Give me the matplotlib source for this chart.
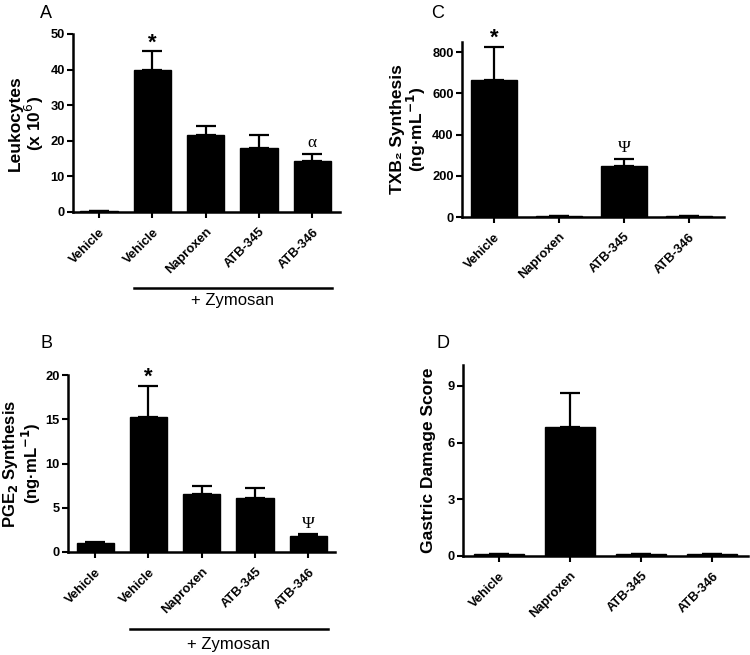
import matplotlib
matplotlib.use("Agg")
import matplotlib.pyplot as plt
import matplotlib.transforms as mtransforms

plt.rcParams['font.family'] = ['Liberation Sans', 'DejaVu Sans']

# Panel A: leukocytes
a_labels = ['Vehicle', 'Vehicle', 'Naproxen', 'ATB-345', 'ATB-346']
a_values = [0.3, 40.0, 21.5, 18.0, 14.3]
a_errors = [0.0, 5.1, 2.6, 3.7, 2.1]
a_marks = ['', '*', '', '', 'α']

# Panel B: PGE2 synthesis
b_labels = ['Vehicle', 'Vehicle', 'Naproxen', 'ATB-345', 'ATB-346']
b_values = [1.0, 15.3, 6.5, 6.1, 1.8]
b_errors = [0.1, 3.5, 1.0, 1.1, 0.2]
b_marks = ['', '*', '', '', 'Ψ']

# Panel C: TXB2 synthesis
c_labels = ['Vehicle', 'Naproxen', 'ATB-345', 'ATB-346']
c_values = [665, 4, 248, 4]
c_errors = [160, 0, 35, 0]
c_marks = ['*', '', 'Ψ', '']

# Panel D: gastric damage
d_labels = ['Vehicle', 'Naproxen', 'ATB-345', 'ATB-346']
d_values = [0.1, 6.8, 0.1, 0.1]
d_errors = [0.0, 1.8, 0.0, 0.0]


def bar_panel(ax, labels, values, errors, marks, ylim, yticks, xlim):
    x = list(range(len(values)))
    ax.bar(x, values, width=0.7, color='black', edgecolor='black')
    ax.errorbar(x, values, yerr=[[0] * len(errors), errors], fmt='none',
                ecolor='black', elinewidth=1.6, capsize=7.5, capthick=1.6)
    ax.set_xlim(*xlim)
    ax.set_ylim(*ylim)
    ax.set_yticks(yticks)
    ax.set_xticks(x)
    ax.set_xticklabels(labels, rotation=45, ha='right', rotation_mode='anchor',
                       fontweight='bold', fontsize=9.3)
    for lab in ax.get_yticklabels():
        lab.set_fontweight('bold')
        lab.set_fontsize(9.3)
    ax.spines['top'].set_visible(False)
    ax.spines['right'].set_visible(False)
    ax.spines['left'].set_linewidth(1.8)
    ax.spines['bottom'].set_linewidth(1.8)
    ax.tick_params(width=1.5, length=4, pad=2)
    ax.tick_params(axis='x', pad=6)
    span = ylim[1] - ylim[0]
    for xi, v, e, m in zip(x, values, errors, marks):
        if not m:
            continue
        if m == '*':
            ax.text(xi, v + e - span * 0.01, m, ha='center', va='bottom',
                    fontsize=16, fontweight='bold')
        else:
            ax.text(xi, v + e + span * 0.015, m, ha='center', va='bottom',
                    fontsize=12.5, family=['Liberation Serif', 'DejaVu Serif'])


def zymosan(ax, line_y, text_y):
    trans = mtransforms.blended_transform_factory(ax.transData, ax.transAxes)
    ax.plot([0.65, 4.37], [line_y, line_y], color='black', lw=1.8,
            transform=trans, clip_on=False)
    ax.text(2.5, text_y, '+ Zymosan', ha='center', va='center',
            fontsize=12, transform=trans)


fig = plt.figure(figsize=(7.5, 6.55), dpi=100)

axA = fig.add_axes([73 / 750, 1 - 212 / 655, 267 / 750, 178 / 655])
bar_panel(axA, a_labels, a_values, a_errors, a_marks, (0, 50),
          [0, 10, 20, 30, 40, 50], (-0.49, 4.52))
axA.set_ylabel('Leukocytes\n(x 10$^{6}$)', fontsize=12.5, fontweight='bold',
               linespacing=1.0, labelpad=3)
zymosan(axA, -0.427, -0.495)

axB = fig.add_axes([68 / 750, 1 - 552 / 655, 267 / 750, 177 / 655])
bar_panel(axB, b_labels, b_values, b_errors, b_marks, (0, 20),
          [0, 5, 10, 15, 20], (-0.51, 4.5))
axB.set_ylabel('PGE$_\\mathbf{2}$ Synthesis\n(ng·mL$^{\\mathbf{-1}}$)',
               fontsize=12, fontweight='bold', linespacing=0.95, labelpad=2)
zymosan(axB, -0.435, -0.525)

axC = fig.add_axes([462 / 750, 1 - 217 / 655, 262 / 750, 175 / 655])
bar_panel(axC, c_labels, c_values, c_errors, c_marks, (0, 850),
          [0, 200, 400, 600, 800], (-0.49, 3.54))
axC.set_ylabel('TXB\u2082 Synthesis\n(ng·mL$^{\\mathbf{-1}}$)', fontsize=12.5,
               fontweight='bold', linespacing=1.0, labelpad=3)

axD = fig.add_axes([463 / 750, 1 - 556 / 655, 285 / 750, 191 / 655])
bar_panel(axD, d_labels, d_values, d_errors, [''] * 4, (0, 10.1),
          [0, 3, 6, 9], (-0.5, 3.5))
axD.set_ylabel('Gastric Damage Score', fontsize=12.5, fontweight='bold',
               labelpad=8)

for letter, px, py in [('A', 46, 13), ('C', 438, 13), ('B', 46, 343), ('D', 443, 343)]:
    fig.text(px / 750, 1 - py / 655, letter, fontsize=13, ha='center', va='center')

fig.savefig('out.png', dpi=100)
